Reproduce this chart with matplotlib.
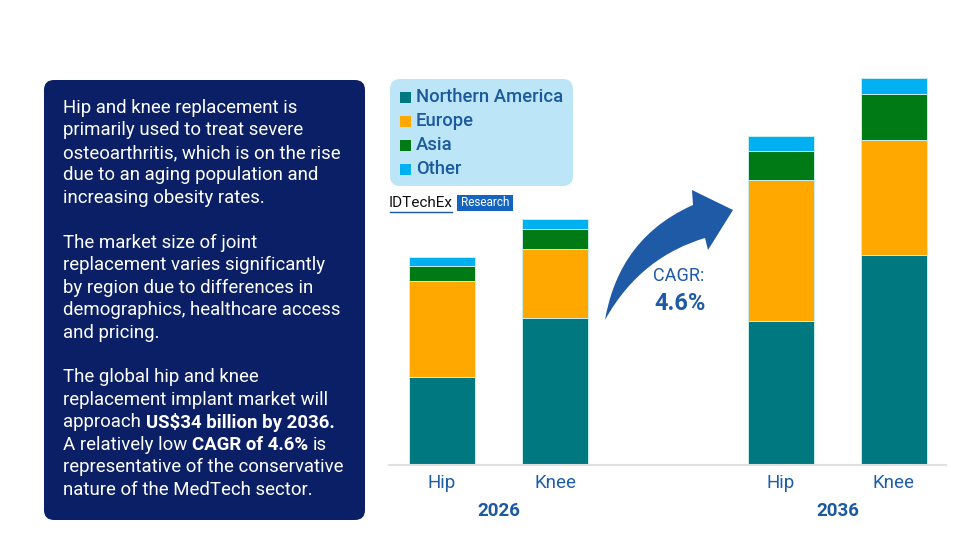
import numpy as np
import matplotlib
matplotlib.use("Agg")
import matplotlib.pyplot as plt
from matplotlib.patches import FancyBboxPatch, Rectangle, PathPatch
from matplotlib.path import Path

plt.rcParams['font.family'] = ['Roboto', 'DejaVu Sans']

# ---- data (US$ billion) ----
bar_labels = ["Hip", "Knee", "Hip", "Knee"]
years = ["2026", "2036"]
regions = ["Northern America", "Europe", "Asia", "Other"]
north_america = [4.17, 6.98, 6.84, 9.97]
europe = [4.56, 3.28, 6.70, 5.47]
asia = [0.73, 0.95, 1.40, 2.20]
other = [0.44, 0.46, 0.68, 0.75]
colors = ["#00787f", "#ffa800", "#007a14", "#00b0f0"]

cagr_text = "4.6%"

para_lines = [
    ["Hip and knee replacement is"],
    ["primarily used to treat severe"],
    ["osteoarthritis, which is on the rise"],
    ["due to an aging population and"],
    ["increasing obesity rates."],
    [""],
    ["The market size of joint"],
    ["replacement varies significantly"],
    ["by region due to differences in"],
    ["demographics, healthcare access"],
    ["and pricing."],
    [""],
    ["The global hip and knee"],
    ["replacement implant market will"],
    ["approach ", "US$34 billion by 2036."],
    ["A relatively low ", "CAGR of 4.6%", " is"],
    ["representative of the conservative"],
    ["nature of the MedTech sector."],
]

W, H = 980, 560
fig = plt.figure(figsize=(W / 100, H / 100), dpi=100)
fig.patch.set_facecolor("white")

# overlay axes in pixel coordinates for the decorations
deco = fig.add_axes([0, 0, 1, 1])
deco.set_xlim(0, W)
deco.set_ylim(H, 0)
deco.axis("off")

# ---- bar chart ----
px_per_unit = 113.0
x0_px = 442.0
base_px = 465.0
top_px = 60.0
left_px, right_px = 389.0, 946.0
ax = fig.add_axes([left_px / W, (H - base_px) / H, (right_px - left_px) / W, (base_px - top_px) / H])
ax.set_zorder(2)
ax.patch.set_alpha(0)
pos = np.array([0, 1, 3, 4])
ax.set_xlim((left_px - x0_px) / px_per_unit, (right_px - x0_px) / px_per_unit)
ax.set_ylim(0, (base_px - top_px) / 21.04)

bottom = np.zeros(4)
for vals, c, name in zip([north_america, europe, asia, other], colors, regions):
    ax.bar(pos, vals, 0.59, bottom=bottom, color=c, edgecolor="#c9eeee", linewidth=0.7, label=name)
    bottom += np.array(vals)

for s in ["top", "right", "left"]:
    ax.spines[s].set_visible(False)
ax.spines["bottom"].set_color("#e0e0e0")
ax.spines["bottom"].set_linewidth(1.5)
ax.set_yticks([])
ax.set_xticks(pos)
ax.set_xticklabels(bar_labels, color="#1f5fa8", fontsize=13.5)
ax.tick_params(axis="x", length=0, pad=6.5)

for i, yr in enumerate(years):
    xc = x0_px + px_per_unit * (pos[2 * i] + pos[2 * i + 1]) / 2
    deco.text(xc, 511, yr, color="#1b5a9c", fontsize=13.5, fontweight="bold", ha="center", va="center")

# ---- left text panel ----
deco.add_patch(FancyBboxPatch((50, 86), 309, 428, boxstyle="round,pad=6,rounding_size=10",
                              facecolor="#0b1f66", edgecolor="none"))
fig.canvas.draw()
renderer = fig.canvas.get_renderer()
FS = 13.4


def text_w(s, weight):
    t = deco.text(0, 0, s, fontsize=FS, fontweight=weight, parse_math=False)
    w = t.get_window_extent(renderer).width
    t.remove()
    return w


space_w = text_w("a a", "normal") - text_w("aa", "normal")
for i, pieces in enumerate(para_lines):
    y = 108 + 22.45 * i
    x = 63
    for j, piece in enumerate(pieces):
        weight = "bold" if j % 2 == 1 else "normal"
        lead = len(piece) - len(piece.lstrip(" "))
        x += lead * space_w
        core = piece.strip(" ")
        if core:
            deco.text(x, y, core, color="white", fontsize=FS, fontweight=weight,
                      va="center", ha="left", parse_math=False)
            x += text_w(core, weight)
        trail = len(piece) - len(piece.rstrip(" "))
        x += trail * space_w

# ---- legend box ----
deco.add_patch(FancyBboxPatch((396, 85), 171, 95, boxstyle="round,pad=6,rounding_size=10",
                              facecolor="#bde5f8", edgecolor="none"))
for k, (name, c) in enumerate(zip(regions, colors)):
    yy = 97 + 24 * k
    deco.add_patch(Rectangle((400, yy - 5.5), 11, 11, facecolor=c, edgecolor="none"))
    deco.text(416, yy, name, color="#1b5a9c", fontsize=13.3, fontweight="medium", va="center", ha="left")

# ---- IDTechEx logo ----
deco.text(389, 203, "IDTechEx", color="#111111", fontsize=11, va="center", ha="left")
deco.plot([390, 452], [212, 212], color="#1b5a9c", lw=1)
deco.add_patch(Rectangle((457, 195), 56, 16, facecolor="#1565c0", edgecolor="none"))
deco.text(485, 203, "Research", color="white", fontsize=8.5, va="center", ha="center")

# ---- curved arrow ----
verts = [
    (605, 320),
    (612, 280), (632, 232), (693, 205),
    (692, 190),
    (733, 210),
    (708, 250),
    (705, 238),
    (665, 250), (630, 275), (605, 320),
    (605, 320),
]
codes = [Path.MOVETO,
         Path.CURVE4, Path.CURVE4, Path.CURVE4,
         Path.LINETO, Path.LINETO, Path.LINETO, Path.LINETO,
         Path.CURVE4, Path.CURVE4, Path.CURVE4,
         Path.CLOSEPOLY]
deco.add_patch(PathPatch(Path(verts, codes), facecolor="#1f5aa6", edgecolor="none"))
deco.text(679, 276, "CAGR:", color="#1f5aa6", fontsize=13, ha="center", va="center")
deco.text(680, 303, cagr_text, color="#1f5aa6", fontsize=17, fontweight="bold", ha="center", va="center")

fig.savefig("out.png", dpi=100, facecolor="white")
